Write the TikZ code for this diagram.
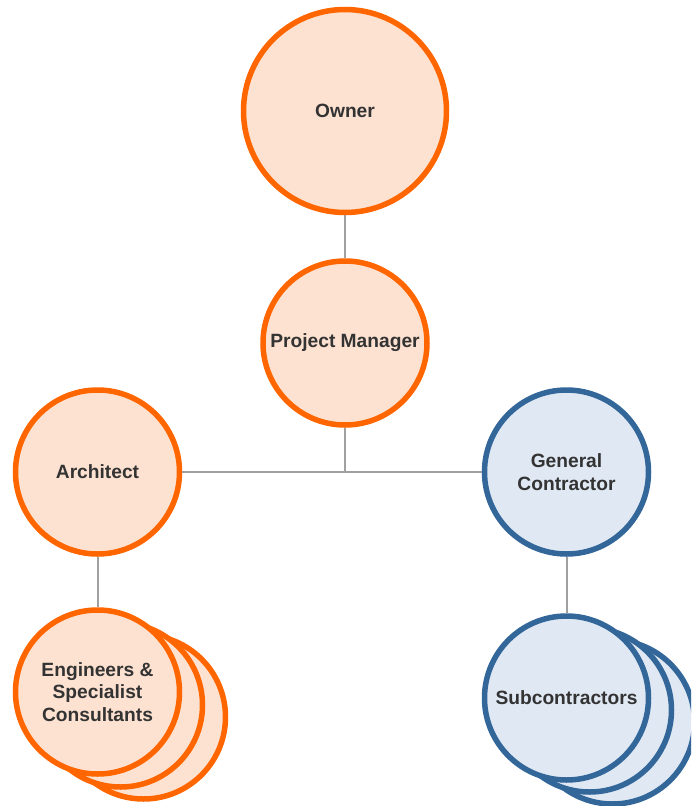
\documentclass[tikz,border=0pt]{standalone}
\usepackage{fontspec}
\setmainfont{Liberation Sans}
\usetikzlibrary{backgrounds}
\definecolor{ringorange}{HTML}{FF6600}
\definecolor{fillpeach}{HTML}{FEE2D1}
\definecolor{ringblue}{HTML}{336699}
\definecolor{fillblue}{HTML}{DFE8F3}
\definecolor{labelgray}{HTML}{333333}
\definecolor{linkgray}{HTML}{A0A0A0}
\tikzset{
  role/.style={circle, line width=5.5pt, minimum size=164pt, inner sep=0pt,
    align=center, font=\fontsize{19.2}{22.8}\selectfont\bfseries, text=labelgray},
  design/.style={role, draw=ringorange, fill=fillpeach},
  build/.style={role, draw=ringblue, fill=fillblue},
  link/.style={draw=linkgray, line width=2pt}
}
\begin{document}
\begin{tikzpicture}[x=1pt, y=-1pt]
  \useasboundingbox (0,0) rectangle (691,806);
  \clip (0,0) rectangle (691,806);

  % top of the hierarchy
  \node[design, minimum size=203pt] (owner) at (345,111) {Owner};
  \node[design] (pm) at (345,343) {Project Manager};

  % second tier
  \node[design] (arch) at (97.5,472) {Architect};
  \node[build] (gc) at (566.5,472) {General\\Contractor};

  % stacked groups, drawn back to front
  \node[design] (eng3) at (143.5,717) {};
  \node[design] (eng2) at (120.5,705) {};
  \node[design] (eng) at (97.5,692) {Engineers \&\\Specialist\\Consultants};

  \node[build] (sub3) at (612.5,722) {};
  \node[build] (sub2) at (589.5,710) {};
  \node[build] (sub) at (566.5,698) {Subcontractors};

  \coordinate (hub) at (pm.south |- arch.east);

  \begin{scope}[on background layer]
    \draw[link] (owner.south) -- (pm.north);
    \draw[link] (pm.south) -- (hub);
    \draw[link] (arch.east) -- (gc.west);
    \draw[link] (arch.south) -- (eng.north);
    \draw[link] (gc.south) -- (sub.north);
  \end{scope}
\end{tikzpicture}
\end{document}
